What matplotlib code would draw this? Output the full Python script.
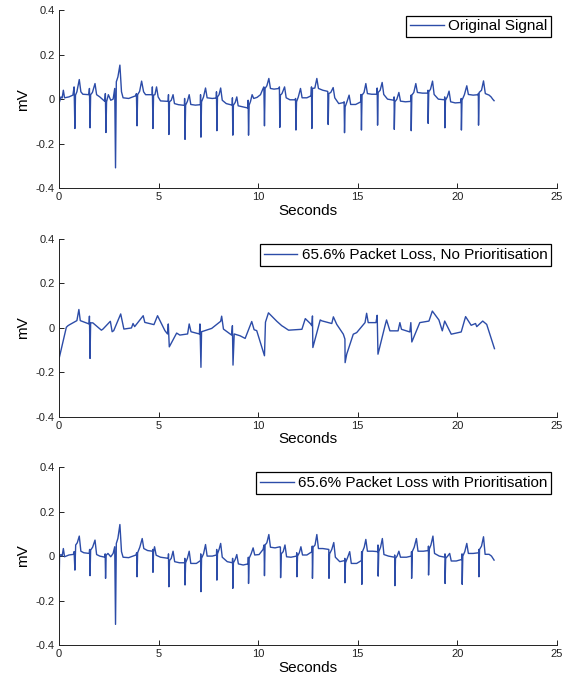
import matplotlib
matplotlib.use("Agg")
import matplotlib.pyplot as plt

plt.rcParams['font.family'] = ['Liberation Sans', 'DejaVu Sans']
plt.rcParams['axes.unicode_minus'] = False

# knots, seconds / mV
orig_t = [0.00, 0.10, 0.16, 0.22, 0.28, 0.50, 0.70,
          0.76, 0.80, 0.83, 0.90, 1.02, 1.10, 1.20, 1.50,
          1.53, 1.56, 1.59, 1.68, 1.81, 1.89, 2.05, 2.30,
          2.33, 2.36, 2.39, 2.48, 2.60, 2.72, 2.80,
          2.84, 2.88, 2.96, 3.06, 3.14, 3.22, 3.50, 3.85,
          3.89, 3.92, 3.95, 4.05, 4.15, 4.25, 4.35, 4.68,
          4.69, 4.72, 4.75, 4.82, 4.90, 4.98, 5.10, 5.48,
          5.50, 5.52, 5.55, 5.64, 5.73, 5.80, 6.00, 6.30,
          6.31, 6.33, 6.36, 6.45, 6.54, 6.62, 6.85, 7.10,
          7.11, 7.13, 7.16, 7.26, 7.36, 7.44, 7.70, 7.90,
          7.91, 7.93, 7.96, 8.04, 8.12, 8.20, 8.40, 8.70,
          8.71, 8.73, 8.76, 8.85, 8.93, 9.00, 9.25, 9.49,
          9.50, 9.52, 9.55, 9.62, 9.70, 9.78, 9.95, 10.12, 10.25,
          10.29, 10.32, 10.35, 10.44, 10.54, 10.62, 10.80, 11.05,
          11.07, 11.09, 11.12, 11.20, 11.33, 11.41, 11.60, 11.87,
          11.88, 11.90, 11.93, 12.02, 12.13, 12.21, 12.45, 12.66,
          12.68, 12.70, 12.73, 12.85, 12.95, 13.03, 13.25, 13.49,
          13.50, 13.52, 13.55, 13.65, 13.77, 13.85, 14.05, 14.31,
          14.32, 14.34, 14.37, 14.47, 14.57, 14.65, 14.90, 15.16,
          15.17, 15.19, 15.22, 15.32, 15.41, 15.49, 15.70, 15.97,
          15.98, 16.00, 16.03, 16.13, 16.23, 16.31, 16.50, 16.82,
          16.83, 16.84, 16.87, 16.97, 17.07, 17.15, 17.40, 17.67,
          17.68, 17.69, 17.72, 17.82, 17.92, 18.00, 18.25, 18.52,
          18.53, 18.54, 18.57, 18.66, 18.76, 18.84, 19.05, 19.36,
          19.37, 19.38, 19.41, 19.50, 19.59, 19.67, 19.90, 20.19,
          20.20, 20.21, 20.24, 20.36, 20.48, 20.56, 20.80, 21.05,
          21.06, 21.07, 21.10, 21.22, 21.32, 21.41, 21.60, 21.70, 21.78, 21.85]
orig_mv = [-0.020, 0.010, 0.005, 0.040, 0.006, 0.010, 0.018,
           0.055, -0.132, 0.018, 0.033, 0.088, 0.033, 0.022, 0.020,
           0.048, -0.129, 0.020, 0.030, 0.070, 0.020, 0.010, -0.010,
           0.025, -0.150, -0.012, 0.020, -0.005, 0.000, 0.048,
           -0.309, 0.078, 0.100, 0.153, 0.033, 0.006, 0.003, 0.015,
           0.025, -0.120, 0.020, 0.035, 0.081, 0.033, 0.020, 0.020,
           0.055, -0.132, 0.018, 0.020, 0.055, 0.010, -0.008, -0.010,
           0.020, -0.159, -0.012, -0.005, 0.020, -0.020, -0.025, -0.028,
           0.003, -0.181, -0.027, -0.010, 0.020, -0.024, -0.027, -0.025,
           0.020, -0.171, -0.012, 0.010, 0.050, 0.006, 0.003, 0.005,
           0.033, -0.142, 0.010, 0.020, 0.050, -0.005, -0.020, -0.027,
           0.006, -0.162, -0.027, -0.015, 0.010, -0.030, -0.035, -0.040,
           -0.005, -0.162, -0.027, -0.010, 0.020, 0.003, 0.008, 0.020, 0.048,
           0.055, -0.120, 0.048, 0.060, 0.093, 0.048, 0.045, 0.048,
           0.055, -0.127, 0.018, 0.025, 0.055, 0.006, -0.003, -0.003,
           0.003, -0.139, -0.012, 0.010, 0.048, 0.006, 0.006, 0.015,
           0.055, -0.132, 0.048, 0.050, 0.093, 0.048, 0.040, 0.035,
           0.033, -0.114, 0.025, 0.030, 0.052, 0.006, -0.020, -0.015,
           -0.012, -0.151, -0.035, -0.010, 0.018, -0.024, -0.024, -0.012,
           0.021, -0.139, 0.018, 0.030, 0.070, 0.025, 0.022, 0.022,
           0.050, -0.117, 0.030, 0.040, 0.075, 0.021, 0.000, -0.005,
           0.010, -0.136, -0.012, 0.000, 0.030, -0.009, -0.012, -0.010,
           0.018, -0.142, 0.018, 0.030, 0.070, 0.030, 0.027, 0.027,
           0.040, -0.109, 0.033, 0.045, 0.081, 0.021, 0.000, -0.003,
           0.010, -0.129, -0.005, 0.010, 0.036, -0.012, -0.017, -0.015,
           0.003, -0.139, -0.005, 0.020, 0.060, 0.021, 0.018, 0.020,
           0.025, -0.117, 0.030, 0.040, 0.082, 0.025, 0.018, 0.010, 0.000, -0.007]

noprio_t = [0.00, 0.37, 0.45, 0.54, 0.90, 1.00, 1.07, 1.51, 1.53, 1.56, 1.59, 1.70,
            2.13, 2.21, 2.58, 2.67, 2.75, 3.10, 3.26, 3.64, 3.72, 3.80, 4.23, 4.31,
            4.77, 4.95, 5.32, 5.45, 5.49, 5.54, 5.91, 6.07, 6.46, 6.54, 6.63, 7.05,
            7.08, 7.13, 7.16, 7.67, 8.12, 8.17, 8.26, 8.67, 8.71, 8.74, 8.80, 9.09,
            9.35, 9.68, 9.80, 9.93, 10.32, 10.37, 10.52, 10.94, 11.19, 11.28, 11.53,
            12.20, 12.37, 12.62, 12.70, 12.73, 12.75, 13.12, 13.20, 13.70, 13.78,
            13.95, 14.28, 14.36, 14.37, 14.45, 14.78, 14.95, 15.37, 15.45, 15.53,
            15.92, 15.98, 16.02, 16.37, 16.45, 16.62, 17.03, 17.12, 17.20, 17.62,
            17.67, 17.72, 18.12, 18.58, 18.75, 19.08, 19.25, 19.37, 19.70, 20.20,
            20.42, 20.70, 20.92, 20.98, 21.28, 21.48, 21.87]
noprio_mv = [-0.140, 0.003, 0.010, 0.015, 0.033, 0.083, 0.033, 0.018, 0.053, -0.137, 0.023, 0.023,
             -0.010, -0.005, 0.030, -0.017, -0.012, 0.063, -0.005, 0.000, 0.020, 0.006, 0.055, 0.025,
             0.015, 0.055, -0.012, -0.027, 0.018, -0.085, -0.023, -0.032, -0.027, 0.018, -0.017, -0.027,
             0.018, -0.177, -0.017, -0.002, 0.030, 0.053, -0.005, -0.032, 0.010, -0.167, -0.027, -0.035,
             -0.047, 0.029, -0.008, -0.012, -0.125, 0.026, 0.068, 0.030, 0.010, 0.005, -0.010,
             -0.006, 0.042, 0.020, 0.010, 0.054, -0.088, 0.036, 0.032, 0.020, 0.050,
             0.016, -0.028, -0.050, -0.156, -0.118, -0.028, -0.021, 0.024, 0.066, 0.024,
             0.024, 0.057, -0.118, 0.009, 0.036, -0.013, -0.013, 0.024, -0.006, -0.018,
             0.024, -0.063, 0.024, 0.031, 0.076, 0.036, -0.013, 0.031, -0.028, -0.018,
             0.051, 0.012, 0.020, 0.006, 0.031, 0.016, -0.093]

prio_t = [0.00, 0.01, 0.03, 0.10, 0.16, 0.22, 0.28, 0.50, 0.74,
          0.76, 0.80, 0.84, 0.92, 1.02, 1.10, 1.25, 1.52,
          1.54, 1.56, 1.59, 1.69, 1.81, 1.89, 2.05, 2.31,
          2.32, 2.34, 2.37, 2.46, 2.60, 2.72, 2.80,
          2.84, 2.88, 2.96, 3.06, 3.14, 3.22, 3.50, 3.87,
          3.90, 3.92, 3.95, 4.06, 4.18, 4.26, 4.45, 4.70,
          4.71, 4.72, 4.75, 4.80, 4.88, 5.10, 5.49,
          5.50, 5.52, 5.55, 5.64, 5.73, 5.81, 6.05, 6.31,
          6.32, 6.33, 6.36, 6.45, 6.54, 6.62, 6.90, 7.11,
          7.12, 7.13, 7.16, 7.26, 7.36, 7.44, 7.70, 7.91,
          7.92, 7.93, 7.96, 8.04, 8.12, 8.20, 8.45, 8.71,
          8.72, 8.73, 8.76, 8.85, 8.93, 9.01, 9.25, 9.50,
          9.51, 9.52, 9.55, 9.65, 9.75, 9.83, 10.05, 10.25,
          10.30, 10.32, 10.35, 10.44, 10.54, 10.62, 10.85, 11.10,
          11.12, 11.13, 11.16, 11.26, 11.35, 11.43, 11.65, 11.93,
          11.94, 11.95, 11.98, 12.07, 12.15, 12.23, 12.45, 12.71,
          12.72, 12.73, 12.76, 12.86, 12.95, 13.03, 13.25, 13.54,
          13.55, 13.56, 13.59, 13.70, 13.80, 13.88, 14.10, 14.35,
          14.355, 14.36, 14.39, 14.50, 14.60, 14.68, 14.95, 15.19,
          15.20, 15.21, 15.24, 15.33, 15.41, 15.49, 15.75, 16.01,
          16.02, 16.03, 16.06, 16.15, 16.24, 16.32, 16.55, 16.85,
          16.86, 16.87, 16.90, 16.98, 17.07, 17.15, 17.45, 17.70,
          17.705, 17.71, 17.74, 17.84, 17.95, 18.03, 18.30, 18.55,
          18.555, 18.56, 18.59, 18.68, 18.78, 18.86, 19.10, 19.38,
          19.385, 19.39, 19.42, 19.52, 19.62, 19.70, 19.95, 20.23,
          20.24, 20.25, 20.28, 20.38, 20.48, 20.56, 20.80, 21.08,
          21.085, 21.09, 21.12, 21.22, 21.32, 21.40, 21.60, 21.72, 21.85]
prio_mv = [-0.005, -0.108, 0.000, 0.007, 0.000, 0.034, -0.003, 0.005, 0.008,
           0.020, -0.063, 0.050, 0.060, 0.090, 0.022, 0.015, 0.012,
           0.030, -0.088, 0.027, 0.040, 0.072, 0.007, 0.000, -0.005,
           0.010, -0.100, 0.004, 0.012, -0.003, 0.012, 0.042,
           -0.307, 0.057, 0.080, 0.142, 0.020, -0.005, -0.007, 0.005,
           0.015, -0.093, 0.015, 0.040, 0.079, 0.034, 0.025, 0.022,
           0.030, -0.073, 0.020, 0.042, 0.004, -0.005, -0.010,
           0.010, -0.138, -0.020, -0.010, 0.022, -0.025, -0.030, -0.030,
           -0.010, -0.130, -0.030, -0.010, 0.022, -0.033, -0.033, -0.020,
           0.010, -0.160, -0.010, 0.010, 0.052, 0.000, 0.000, 0.005,
           0.030, -0.108, 0.010, 0.030, 0.057, -0.005, -0.025, -0.030,
           -0.010, -0.145, -0.030, -0.015, 0.007, -0.035, -0.040, -0.035,
           -0.005, -0.123, -0.010, 0.010, 0.037, 0.005, 0.007, 0.030,
           0.050, -0.088, 0.050, 0.060, 0.097, 0.040, 0.037, 0.042,
           0.040, -0.097, 0.010, 0.020, 0.050, -0.003, -0.005, 0.000,
           0.015, -0.093, 0.000, 0.015, 0.042, 0.005, 0.005, 0.020,
           0.045, -0.100, 0.040, 0.050, 0.097, 0.034, 0.034, 0.030,
           0.030, -0.100, 0.010, 0.030, 0.061, -0.005, -0.025, -0.020,
           -0.010, -0.120, -0.030, -0.005, 0.020, -0.033, -0.033, -0.020,
           0.020, -0.127, 0.020, 0.040, 0.075, 0.022, 0.022, 0.020,
           0.050, -0.090, 0.020, 0.040, 0.079, 0.007, 0.000, -0.005,
           0.005, -0.133, -0.010, 0.000, 0.022, -0.005, -0.005, 0.000,
           0.020, -0.100, 0.020, 0.040, 0.079, 0.022, 0.022, 0.025,
           0.045, -0.085, 0.030, 0.050, 0.090, 0.012, 0.000, -0.005,
           0.010, -0.123, -0.010, 0.000, 0.012, -0.022, -0.022, -0.015,
           0.010, -0.127, 0.000, 0.020, 0.057, 0.012, 0.012, 0.015,
           0.030, -0.093, 0.030, 0.045, 0.087, 0.008, 0.008, 0.000, -0.018]

labels = ['Original Signal',
          '65.6% Packet Loss, No Prioritisation',
          '65.6% Packet Loss with Prioritisation']
series = [(orig_t, orig_mv), (noprio_t, noprio_mv), (prio_t, prio_mv)]
yticks = [-0.4, -0.2, 0, 0.2, 0.4]
ytick_labels = ['-0.4', '-0.2', '0', '0.2', '0.4']
xticks = [0, 5, 10, 15, 20, 25]

line_color = '#2c4ca8'

fig = plt.figure(figsize=(5.67, 6.79), dpi=100)
tops = [0.985, 0.648, 0.312]
for k in range(3):
    ax = fig.add_axes([0.104, tops[k] - 0.262, 0.878, 0.262])
    t, v = series[k]
    ax.plot(t, v, color=line_color, linewidth=1.0, label=labels[k])
    ax.set_xlim(0, 25)
    ax.set_ylim(-0.4, 0.4)
    ax.set_xticks(xticks)
    ax.set_xticklabels([str(x) for x in xticks])
    ax.set_yticks(yticks)
    ax.set_yticklabels(ytick_labels)
    for s in ['top', 'right']:
        ax.spines[s].set_visible(False)
    for s in ['left', 'bottom']:
        ax.spines[s].set_linewidth(0.7)
        ax.spines[s].set_color('#222222')
    ax.tick_params(direction='in', length=3.5, width=0.7, labelsize=8,
                   color='#222222', labelcolor='#222222', pad=3)
    ax.set_xlabel('Seconds', fontsize=11, labelpad=1)
    ax.set_ylabel('mV', fontsize=11, labelpad=4)
    leg = ax.legend(loc='upper right', fontsize=11, fancybox=False,
                    handlelength=2.2, handletextpad=0.3, borderpad=0.25,
                    borderaxespad=0.35, framealpha=1)
    leg.get_frame().set_edgecolor('black')
    leg.get_frame().set_linewidth(0.9)

fig.savefig('out.png', dpi=100)
